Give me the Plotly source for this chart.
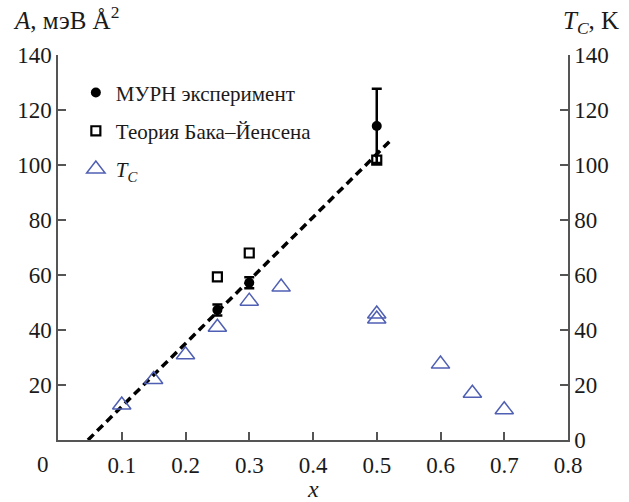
import plotly.graph_objects as go

# МУРН experiment
exp_x = [0.25, 0.3, 0.5]
exp_y = [47.3, 57.2, 114.2]
exp_err = [2.0, 2.0, 13.5]

# Bak–Jensen theory
th_x = [0.25, 0.3, 0.5]
th_y = [59.3, 68.0, 101.8]

# T_C (K)
tc_x = [0.1, 0.15, 0.2, 0.25, 0.3, 0.35, 0.5, 0.5, 0.6, 0.65, 0.7]
tc_y = [12.7, 22.0, 31.0, 41.0, 50.5, 55.6, 45.8, 44.0, 27.6, 17.0, 11.0]

# linear fit line
fit_x = [0.047, 0.522]
fit_y = [0.0, 109.0]

x_ticks = [0.1, 0.2, 0.3, 0.4, 0.5, 0.6, 0.7, 0.8]
y_left_ticks = [20, 40, 60, 80, 100, 120, 140]
y_right_ticks = [0, 20, 40, 60, 80, 100, 120, 140]

SERIF = "Liberation Serif"
AXC = "#555555"
BLUE = "#4f5fb3"
TXT = "#1a1a1a"

fig = go.Figure()

fig.add_trace(go.Scatter(
    x=fit_x, y=fit_y, mode="lines",
    line=dict(color="black", width=3.5, dash="8px,5px"),
    showlegend=False, hoverinfo="skip"))

fig.add_trace(go.Scatter(
    x=exp_x, y=exp_y, mode="markers", name="МУРН эксперимент",
    marker=dict(symbol="circle", size=10, color="black"),
    error_y=dict(type="data", array=exp_err, color="black", thickness=2.5, width=5),
    legendgroup="a"))

fig.add_trace(go.Scatter(
    x=th_x, y=th_y, mode="markers", name="Теория Бака–Йенсена",
    marker=dict(symbol="square-open", size=9, color="black", line=dict(width=2.2)),
    legendgroup="b"))

fig.add_trace(go.Scatter(
    x=tc_x, y=tc_y, mode="markers", name="<i>T<sub>C</sub></i>",
    marker=dict(symbol="triangle-up-open", size=16, color=BLUE, line=dict(width=1.5)),
    legendgroup="c", yaxis="y2"))

fig.update_layout(
    width=629, height=502,
    margin=dict(l=58, r=61, t=55, b=62),
    paper_bgcolor="white", plot_bgcolor="white",
    font=dict(family=SERIF, size=23, color=TXT),
    showlegend=True,
    legend=dict(x=0.035, y=0.955, xanchor="left", yanchor="top",
                font=dict(family=SERIF, size=21, color=TXT),
                bgcolor="rgba(0,0,0,0)", tracegroupgap=8, traceorder="grouped"),
    xaxis=dict(range=[0, 0.8], tickvals=x_ticks, ticktext=[str(v) for v in x_ticks],
               ticks="inside", ticklen=8, tickwidth=1.5, tickcolor=AXC, ticklabelstandoff=4,
               showline=True, linecolor=AXC, linewidth=1.5, showgrid=False, zeroline=False,
               automargin=False),
    yaxis=dict(range=[0, 140], tickvals=y_left_ticks, automargin=False,
               ticks="inside", ticklen=8, tickwidth=1.5, tickcolor=AXC,
               showline=True, linecolor=AXC, linewidth=1.5, showgrid=False, zeroline=False),
    yaxis2=dict(range=[0, 140], tickvals=y_right_ticks, overlaying="y", side="right",
                automargin=False,
                ticks="inside", ticklen=8, tickwidth=1.5, tickcolor=AXC,
                showline=True, linecolor=AXC, linewidth=1.5, showgrid=False, zeroline=False),
    annotations=[
        dict(text="0", x=0, y=0, xref="x", yref="y", xanchor="center", yanchor="top",
             xshift=-15, yshift=-10, showarrow=False, font=dict(family=SERIF, size=23)),
        dict(text="<i>x</i>", x=0.5, y=0, xref="paper", yref="paper",
             xanchor="center", yanchor="top", yshift=-34, showarrow=False,
             font=dict(family=SERIF, size=24)),
        dict(text="<i>A</i>, мэВ Å<sup>2</sup>", x=0, y=1, xref="paper", yref="paper",
             xanchor="left", yanchor="bottom", xshift=-47, yshift=19, showarrow=False,
             font=dict(family=SERIF, size=25)),
        dict(text="<i>T<sub>C</sub></i>, K", x=1, y=1, xref="paper", yref="paper",
             xanchor="right", yanchor="bottom", xshift=53, yshift=15, showarrow=False,
             font=dict(family=SERIF, size=25)),
    ],
)

fig.write_html("out.html")
